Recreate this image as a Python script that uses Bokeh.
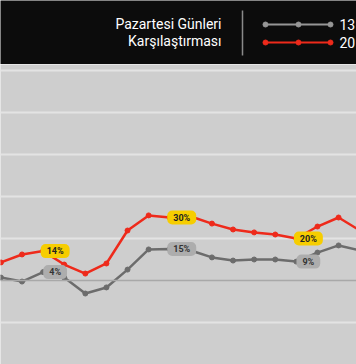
from bokeh.plotting import figure
from bokeh.layouts import column
from bokeh.models import Range1d, FixedTicker, Span
from bokeh.core.properties import value
from bokeh.embed import file_html
from bokeh.resources import INLINE

# ---- data ----
title_lines = ["Pazartesi Günleri", "Karşılaştırması"]
series_names = ["13", "20"]
days = list(range(18))
red_vals = [8.6, 12.4, 14, 7.6, 3.3, 8.1, 23.8, 31, 30, 30.5, 27.1, 24.3, 22.9, 21.9, 20, 25.7, 30, 23.9]
gray_vals = [1.4, -0.5, 4, 1.4, -6.2, -3.3, 5.2, 14.8, 15, 14.3, 11, 9.5, 10, 10, 9, 13.3, 16.7, 14.4]
label_idx = [2, 8, 14]
red_labels = ["14%", "30%", "20%"]
gray_labels = ["4%", "15%", "9%"]
grid_ticks = [-20, 20, 40, 60, 80, 100]

RED = "#ee2a1b"
GRAY = "#6c6c6c"
FONT = value("Roboto")

# ---- header ----
hdr = figure(width=356, height=64, x_range=Range1d(0, 356), y_range=Range1d(64, 0),
             toolbar_location=None, output_backend="svg", min_border=0,
             background_fill_color="#0c0c0c", border_fill_color="#0c0c0c",
             outline_line_color=None)
hdr.axis.visible = False
hdr.grid.visible = False
hdr.text(x=[221, 221], y=[23, 40], text=title_lines, text_align="right",
         text_baseline="middle", text_color="white", text_font=FONT,
         text_font_size="14px")
hdr.segment(x0=[242], y0=[10], x1=[242], y1=[55], line_color="#8a8a8a", line_width=1.5)
for yy, col in [(24, "#969696"), (42, RED)]:
    hdr.line(x=[265, 330], y=[yy, yy], line_color=col, line_width=2)
    hdr.scatter(x=[265, 298, 330], y=[yy] * 3, size=5, color=col)
hdr.text(x=[339, 339], y=[24, 42], text=series_names, text_align="left",
         text_baseline="middle", text_color="white", text_font=FONT,
         text_font_size="14px")

# ---- main plot ----
p = figure(width=356, height=300, x_range=Range1d(-0.02, 16.85), y_range=Range1d(-40, 102.86),
           toolbar_location=None, output_backend="svg", min_border=0,
           background_fill_color="#cecece", border_fill_color="#cecece",
           outline_line_color=None)
p.xaxis.visible = False
p.yaxis.visible = False
p.xgrid.visible = False
p.ygrid.ticker = FixedTicker(ticks=grid_ticks)
p.ygrid.grid_line_color = "#e3e3e3"
p.ygrid.grid_line_width = 2
p.add_layout(Span(location=0, dimension="width", line_color="#a8a8a8", line_width=1.5))

p.line(days, gray_vals, line_color=GRAY, line_width=2.5)
p.scatter(days, gray_vals, size=5, color=GRAY)
p.line(days, red_vals, line_color=RED, line_width=2.5)
p.scatter(days, red_vals, size=5, color=RED)

lx = [days[i] for i in label_idx]
p.text(x=lx, y=[gray_vals[i] for i in label_idx], text=gray_labels,
       text_align="center", text_baseline="middle", x_offset=12,
       text_font=FONT, text_font_size="9px", text_font_style="bold", text_color="#333333",
       background_fill_color="#adadad", border_radius=5, padding=[6, 2])
p.text(x=lx, y=[red_vals[i] for i in label_idx], text=red_labels,
       text_align="center", text_baseline="middle", x_offset=12,
       text_font=FONT, text_font_size="9px", text_font_style="bold", text_color="#222222",
       background_fill_color="#f6cd00", border_radius=5, padding=[6, 2])

layout = column(hdr, p, spacing=0)
open("out.html", "w").write(file_html(layout, INLINE))
